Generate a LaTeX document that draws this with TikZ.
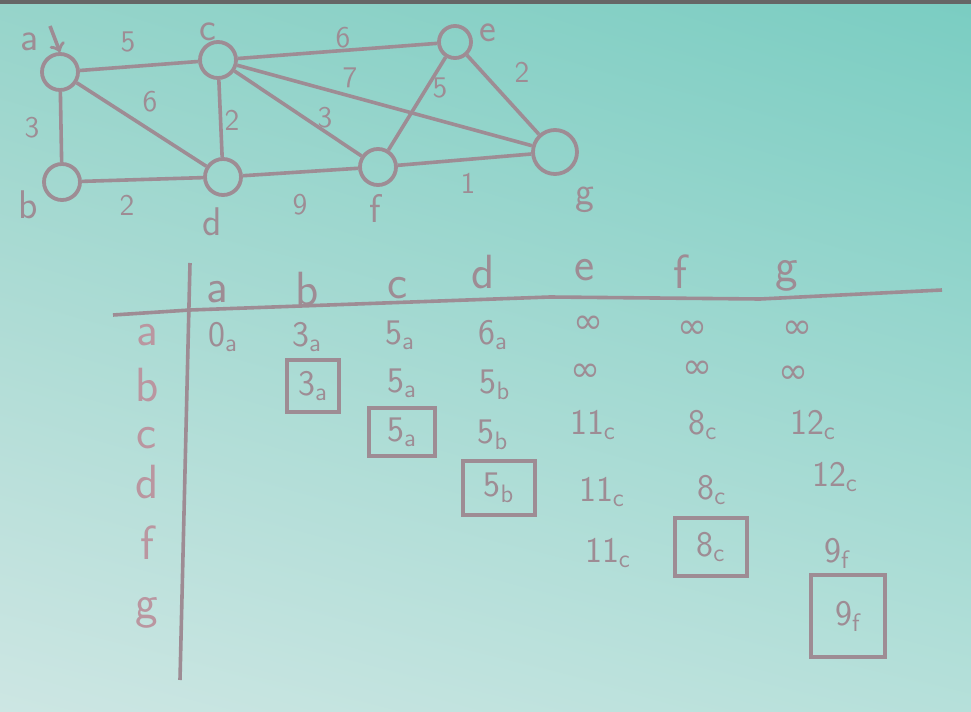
\documentclass[tikz,border=0pt]{standalone}
\usepackage{fontspec}
\usetikzlibrary{shadings}
\newfontfamily\symfont{DejaVu Sans}
\definecolor{ink}{RGB}{158,140,148}
\definecolor{rowink}{RGB}{186,150,160}
\definecolor{boardtl}{RGB}{150,212,202}
\definecolor{boardtr}{RGB}{122,205,194}
\definecolor{boardbl}{RGB}{205,230,227}
\definecolor{boardbr}{RGB}{182,224,218}
\newcommand{\dist}[2]{#1\textsubscript{#2}}
\newcommand{\infmark}{{\symfont ∞}}
\begin{document}
\begin{tikzpicture}[x=0.5pt, y=-0.5pt, font=\sffamily,
    vert/.style={circle, draw=ink, line width=1.9pt, minimum size=18pt, inner sep=0pt},
    edge/.style={draw=ink, line width=1.8pt},
    wt/.style={text=ink, font=\sffamily\fontsize{15}{18}\selectfont},
    vlab/.style={text=ink, font=\sffamily\fontsize{20}{24}\selectfont},
    head/.style={text=ink, font=\sffamily\fontsize{24}{28}\selectfont},
    rowlab/.style={text=rowink, font=\sffamily\fontsize{24}{28}\selectfont},
    cell/.style={text=ink, font=\sffamily\fontsize{18}{21}\selectfont},
    boxed/.style={cell, draw=ink, line width=1.6pt, inner sep=0pt}]
  \useasboundingbox (0,0) rectangle (971,712);
  \shade[upper left=boardtl, upper right=boardtr, lower left=boardbl, lower right=boardbr] (0,0) rectangle (971,712);
  \fill[black!60] (0,0) rectangle (971,4);
  % graph
  \node[vert] (a) at (60,72) {};
  \node[vert] (b) at (62,182) {};
  \node[vert] (c) at (218,60) {};
  \node[vert] (d) at (223,177) {};
  \node[vert, minimum size=16pt] (e) at (455,42) {};
  \node[vert] (f) at (378,167) {};
  \node[vert, minimum size=22pt] (g) at (555,152) {};
  \foreach \u/\v in {a/c, c/e, c/g, e/f, e/g, a/d, c/d, c/f, a/b, b/d, d/f, f/g}
    \draw[edge] (\u) -- (\v);
  \foreach \l/\x/\y in {a/30/42, b/28/205, c/208/32, d/212/222, e/488/33, f/375/208, g/585/200}
    \node[vlab] (l\l) at (\x,\y) {\l};
  \coordinate (start) at (50,26);
  \draw[edge, ->] (start) -- (a.north);
  \foreach \w/\x/\y [count=\i] in {5/128/42, 6/343/38, 7/350/78, 5/440/88, 2/522/72, 6/150/102,
      2/232/120, 3/325/118, 3/32/128, 2/127/205, 9/300/205, 1/468/183}
    \node[wt] (w\i) at (\x,\y) {\w};
  % table
  \draw[edge] (113,315) -- (190,310) -- (550,297) -- (760,299) -- (942,290);
  \draw[edge] (190,263) -- (180,680);
  \foreach \l/\x/\y in {a/217/292, b/307/289, c/398/288, d/483/272, e/585/270, f/680/272, g/787/276}
    \node[head] (h\l) at (\x,\y) {\l};
  \foreach \l/\y in {a/335, b/385, c/438, d/482, f/543, g/613}
    \node[rowlab] (r\l) at (147,\y) {\l};
  \foreach \x/\y/\t [count=\i] in {223/337/\dist{0}{a}, 307/337/\dist{3}{a}, 400/335/\dist{5}{a},
      493/335/\dist{6}{a}, 588/325/\infmark, 692/330/\infmark, 797/330/\infmark,
      402/383/\dist{5}{a}, 495/385/\dist{5}{b}, 585/373/\infmark, 697/370/\infmark, 793/375/\infmark,
      493/435/\dist{5}{b}, 593/425/\dist{11}{c}, 703/425/\dist{8}{c}, 813/425/\dist{12}{c},
      602/492/\dist{11}{c}, 712/490/\dist{8}{c}, 835/477/\dist{12}{c},
      608/553/\dist{11}{c}, 837/553/\dist{9}{f}}
    \node[cell] (v\i) at (\x,\y) {\t};
  \node[boxed, minimum width=26pt, minimum height=26pt] (sb) at (313,386) {\dist{3}{a}};
  \node[boxed, minimum width=33pt, minimum height=24pt] (sc) at (402,432) {\dist{5}{a}};
  \node[boxed, minimum width=36pt, minimum height=27pt] (sd) at (499,488) {\dist{5}{b}};
  \node[boxed, minimum width=36pt, minimum height=29pt] (sf) at (711,547) {\dist{8}{c}};
  \node[boxed, minimum width=37pt, minimum height=41pt] (sg) at (848,616) {\dist{9}{f}};
\end{tikzpicture}
\end{document}
